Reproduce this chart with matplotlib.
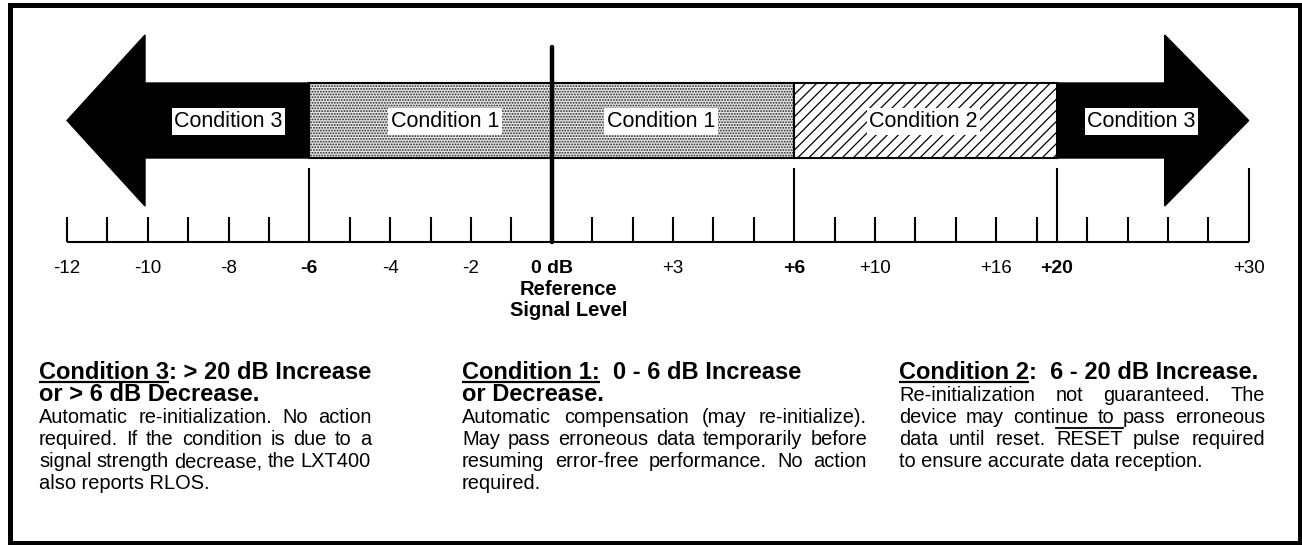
import matplotlib.pyplot as plt
import matplotlib.patches as mpatches
import numpy as np

plt.rcParams['font.family'] = ['Liberation Sans', 'DejaVu Sans']
plt.rcParams['hatch.linewidth'] = 0.9

# dB scale: label text and the ruler slot each one sits on
db_labels = ['-12', '-10', '-8', '-6', '-4', '-2', '0 dB', '+3', '+6', '+10', '+16', '+20', '+30']
db_slots = [0, 2, 4, 6, 8, 10, 12, 15, 18, 20, 23, 24.5, 29.25]
db_bold = ['-6', '0 dB', '+6', '+20']
long_ticks = ['-6', '+6', '+20', '+30']

# bands on the arrow
band_names = ['Condition 3', 'Condition 1', 'Condition 1', 'Condition 2', 'Condition 3']
band_edges = ['-12', '-6', '0 dB', '+6', '+20', '+30']
band_label_slot = [4.0, 9.35, 14.7, 21.2, 26.6]

# description columns
col_heads = [
    ['Condition 3: > 20 dB Increase', 'or > 6 dB Decrease.'],
    ['Condition 1:  0 - 6 dB Increase', 'or Decrease.'],
    ['Condition 2:  6 - 20 dB Increase.'],
]
col_underline = ['Condition 3', 'Condition 1:', 'Condition 2']
col_body = [
    ['Automatic re-initialization. No action',
     'required. If the condition is due to a',
     'signal strength decrease, the LXT400',
     'also reports RLOS.'],
    ['Automatic compensation (may re-initialize).',
     'May pass erroneous data temporarily before',
     'resuming error-free performance. No action',
     'required.'],
    ['Re-initialization not guaranteed. The',
     'device may continue to pass erroneous',
     'data until reset. RESET pulse required',
     'to ensure accurate data reception.'],
]

PX = 40.4   # pixels per ruler slot
X0 = 67     # pixel of slot 0


def sx(s):
    return X0 + PX * np.asarray(s, dtype=float)


slot = dict(zip(db_labels, db_slots))

fig = plt.figure(figsize=(13.02, 5.45), dpi=100)
ax = fig.add_axes([0, 0, 1, 1])
ax.set_xlim(0, 1302)
ax.set_ylim(545, 0)
ax.axis('off')

# outer frame
ax.add_patch(mpatches.Rectangle((9.5, 4.5), 1290, 538, fill=False, lw=3.6, ec='black'))

ymid, hb, hh = 120.5, 37.5, 85.5
top, bot = ymid - hb, ymid + hb

# left arrow (condition 3, decrease)
tip = sx(slot['-12'])
base = tip + 78
end = sx(slot['-6'])
ax.add_patch(mpatches.Polygon([(tip, ymid), (base, ymid - hh), (base, top), (end, top),
                               (end, bot), (base, bot), (base, ymid + hh)],
                              closed=True, fc='black', ec='black', lw=1))
# right arrow (condition 3, increase)
tip = sx(slot['+30'])
base = tip - 84
start = sx(slot['+20'])
ax.add_patch(mpatches.Polygon([(tip, ymid), (base, ymid - hh), (base, top), (start, top),
                               (start, bot), (base, bot), (base, ymid + hh)],
                              closed=True, fc='black', ec='black', lw=1))

# dotted band (condition 1) and hatched band (condition 2)
x1, x2, x3 = sx(slot['-6']), sx(slot['+6']), sx(slot['+20'])
ax.add_patch(mpatches.Rectangle((x1, top), x2 - x1, 2 * hb, fc='#e6e6e6', ec='#222222',
                                hatch='......', lw=0))
ax.add_patch(mpatches.Rectangle((x1, top), x2 - x1, 2 * hb, fill=False, ec='black', lw=1.5))
ax.add_patch(mpatches.Rectangle((x2, top), x3 - x2, 2 * hb, fc='white', ec='black',
                                hatch='///', lw=1.5))

for name, s in zip(band_names, band_label_slot):
    ax.text(sx(s), ymid + 1, name, ha='center', va='center', fontsize=15.5,
            bbox=dict(fc='white', ec='none', boxstyle='square,pad=0.12'))

# ruler
ax.plot([sx(0), sx(slot['+30'])], [242, 242], color='black', lw=1.5, solid_capstyle='butt')
long_s = [slot[k] for k in long_ticks]
short_s = list(range(0, 25)) + [25.25, 26.25, 27.25, 28.25, 29.25]
short_s = [s for s in short_s if min(abs(s - l) for l in long_s) > 0.3]
ax.vlines(sx(short_s), 217, 242, color='black', lw=1.5)
ax.vlines(sx(long_s), 168, 242, color='black', lw=1.5)

# 0 dB reference line
ax.plot([sx(slot['0 dB'])] * 2, [47, 242], color='black', lw=3.2, solid_capstyle='round')

for lab, s in zip(db_labels, db_slots):
    bold = lab in db_bold
    ax.text(sx(s), 273, lab, ha='center', va='baseline', fontsize=14 if bold else 13.5,
            fontweight='bold' if bold else 'normal')
ax.text(sx(slot['0 dB']) + 17, 295, 'Reference', ha='center', va='baseline', fontsize=14.5,
        fontweight='bold')
ax.text(sx(slot['0 dB']) + 17, 316, 'Signal Level', ha='center', va='baseline', fontsize=14.5,
        fontweight='bold')

renderer = fig.canvas.get_renderer()


def text_w(s, **kw):
    t = ax.text(0, 0, s, **kw)
    w = t.get_window_extent(renderer).width
    t.remove()
    return w


col_left = [39, 462, 899]
col_right = [371, 867, 1265]
line_h = 22
head_kw = dict(fontsize=17, fontweight='bold')
body_kw = dict(fontsize=14.4)

for heads, uline, body, xl, xr in zip(col_heads, col_underline, col_body, col_left, col_right):
    y = 379
    for i, h in enumerate(heads):
        ax.text(xl, y, h, ha='left', va='baseline', **head_kw)
        if i == 0:
            w = text_w(uline, **head_kw)
            ax.plot([xl, xl + w], [y + 3, y + 3], color='black', lw=1.6, solid_capstyle='butt')
        y += line_h
    for i, line in enumerate(body):
        words = line.split(' ')
        if i == len(body) - 1:
            ax.text(xl, y, line, ha='left', va='baseline', **body_kw)
        else:
            ws = [text_w(wd, **body_kw) for wd in words]
            gap = (xr - xl - sum(ws)) / (len(words) - 1)
            x = xl
            for wd, w in zip(words, ws):
                ax.text(x, y, wd, ha='left', va='baseline', **body_kw)
                if wd == 'RESET':
                    ax.plot([x, x + w], [y - 17, y - 17], color='black', lw=1.3)
                x += w + gap
        y += line_h

fig.savefig('out.png', dpi=100)
